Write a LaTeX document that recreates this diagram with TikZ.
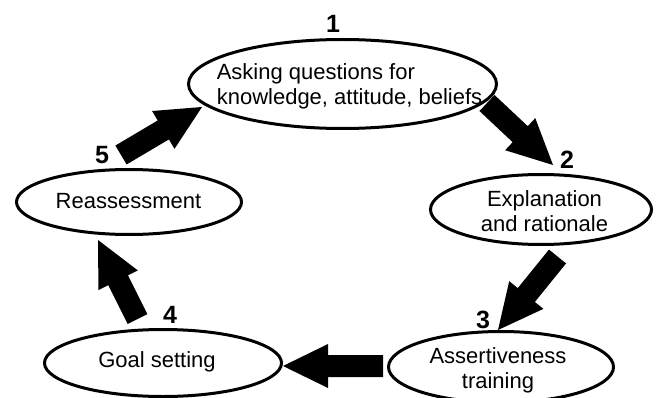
\documentclass[tikz,border=0pt]{standalone}
\usepackage{fontspec}
\setmainfont{Liberation Sans}
\usetikzlibrary{calc}
\newcommand\fatarrow[2]{%
  \path ($(#2)!45pt!(#1)$) coordinate (fa-h);
  \fill[black] ($(#1)!11pt!90:(#2)$) -- ($(fa-h)!11pt!90:(#2)$) -- ($(fa-h)!22pt!90:(#2)$) -- (#2)
     -- ($(fa-h)!22pt!-90:(#2)$) -- ($(fa-h)!11pt!-90:(#2)$) -- ($(#1)!11pt!-90:(#2)$) -- cycle;}
\begin{document}
\begin{tikzpicture}[x=1pt,y=-1pt,
  stageshape/.style={ellipse, draw, line width=3pt, inner sep=0pt},
  stagetext/.style={font=\fontsize{22}{25}\selectfont, align=center, inner sep=0pt},
  numlabel/.style={font=\fontsize{25}{27}\selectfont\bfseries, inner sep=0pt}]
\useasboundingbox (0,0) rectangle (660,398);
% ellipses
\draw[line width=3pt] (342.5,84) ellipse [x radius=154, y radius=44.5];
\coordinate (e1) at (342.5,84);
\draw[line width=3pt] (541,209.5) ellipse [x radius=110.5, y radius=35];
\coordinate (e2) at (541,209.5);
\draw[line width=3pt] (501,367) ellipse [x radius=112.5, y radius=35.5];
\coordinate (e3) at (501,367);
\draw[line width=3pt] (163,363) ellipse [x radius=118.5, y radius=33.5];
\coordinate (e4) at (163,363);
\draw[line width=3pt] (129,202) ellipse [x radius=112.5, y radius=32.5];
\coordinate (e5) at (129,202);
% texts
\node[stagetext, align=left] (t1) at (349.5,86) {Asking questions for\\knowledge, attitude, beliefs};
\node[stagetext] (t2) at (544.5,211) {Explanation\\and rationale};
\node[stagetext] (t3) at (498,370) {Assertiveness\\training};
\node[stagetext] (t4) at (157,362) {Goal setting};
\node[stagetext] (t5) at (128.5,201) {Reassessment};
% numbers
\node[numlabel] (n1) at (333,24) {1};
\node[numlabel] (n2) at (567,160) {2};
\node[numlabel] (n3) at (483,320) {3};
\node[numlabel] (n4) at (170,315) {4};
\node[numlabel] (n5) at (102,155) {5};
% arrow end points
\coordinate (a1s) at (487,103);   \coordinate (a1e) at (553,165);
\coordinate (a2s) at (557.5,256.5); \coordinate (a2e) at (498,330);
\coordinate (a3s) at (383,366);   \coordinate (a3e) at (283,366);
\coordinate (a4s) at (137.5,319); \coordinate (a4e) at (98,240);
\coordinate (a5s) at (121,155);   \coordinate (a5e) at (202,107);
\fatarrow{a1s}{a1e}
\fatarrow{a2s}{a2e}
\fatarrow{a3s}{a3e}
\fatarrow{a4s}{a4e}
\fatarrow{a5s}{a5e}
\end{tikzpicture}
\end{document}
